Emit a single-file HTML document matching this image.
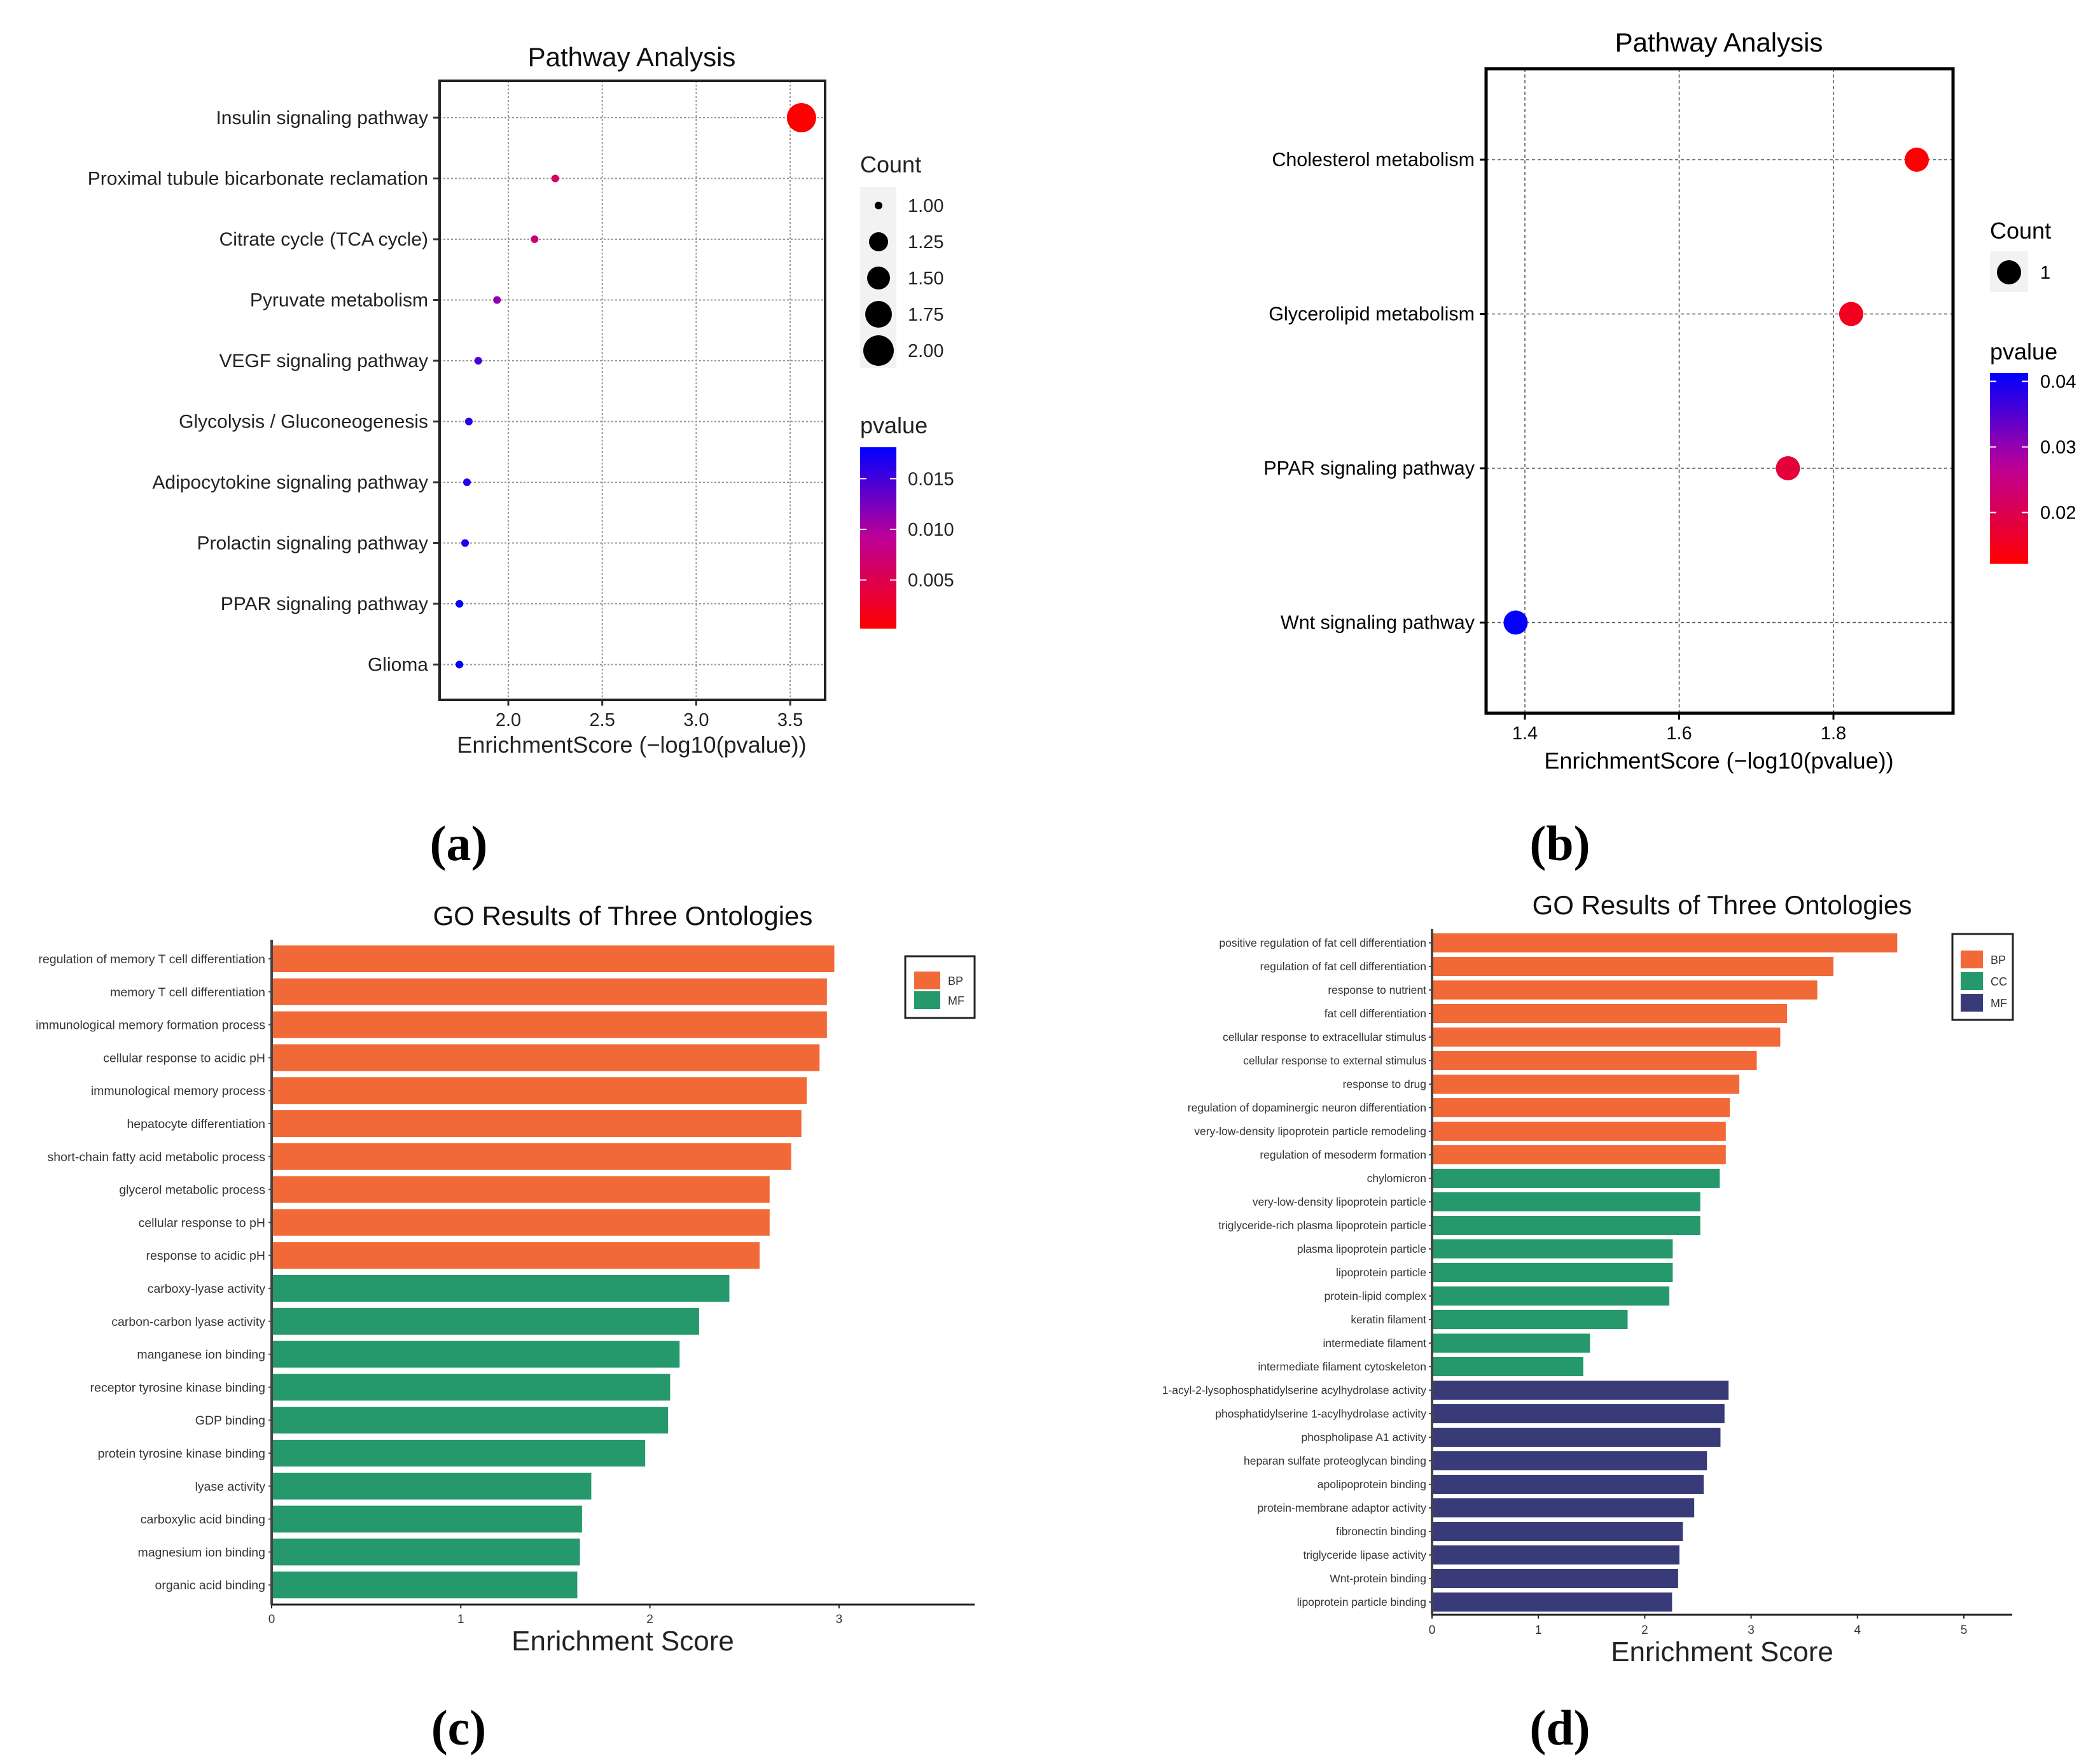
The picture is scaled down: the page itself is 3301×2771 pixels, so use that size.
<!DOCTYPE html>
<html><head><meta charset="utf-8">
<style>
html,body{margin:0;padding:0;background:#fff;overflow:hidden;}
svg{display:block;font-family:"Liberation Sans",Arial,sans-serif;}
.serif{font-family:"Liberation Serif",serif;font-weight:bold;}
</style></head>
<body>
<svg id="fig" width="3301" height="2771" viewBox="0 0 3301 2771" xmlns="http://www.w3.org/2000/svg"></svg>
<script>
// ---------- Panel A data ----------
const aCategories = ["Insulin signaling pathway","Proximal tubule bicarbonate reclamation","Citrate cycle (TCA cycle)","Pyruvate metabolism","VEGF signaling pathway","Glycolysis / Gluconeogenesis","Adipocytokine signaling pathway","Prolactin signaling pathway","PPAR signaling pathway","Glioma"];
const aScores = [3.56,2.25,2.14,1.94,1.84,1.79,1.78,1.77,1.74,1.74];
const aCounts = [2,1,1,1,1,1,1,1,1,1];
const aPvalues = [0.00028,0.0056,0.0072,0.0115,0.0145,0.0162,0.0166,0.017,0.018,0.018];
const aXTicks = [2.0,2.5,3.0,3.5];
const aCountLegend = [1.00,1.25,1.50,1.75,2.00];
const aPTicks = [0.015,0.010,0.005];
// ---------- Panel B data ----------
const bCategories = ["Cholesterol metabolism","Glycerolipid metabolism","PPAR signaling pathway","Wnt signaling pathway"];
const bScores = [1.908,1.823,1.741,1.388];
const bPvalues = [0.0124,0.015,0.018,0.041];
const bXTicks = [1.4,1.6,1.8];
const bPTicks = [0.04,0.03,0.02];
// ---------- Panel C data ----------
const cCategories = ["regulation of memory T cell differentiation","memory T cell differentiation","immunological memory formation process","cellular response to acidic pH","immunological memory process","hepatocyte differentiation","short-chain fatty acid metabolic process","glycerol metabolic process","cellular response to pH","response to acidic pH","carboxy-lyase activity","carbon-carbon lyase activity","manganese ion binding","receptor tyrosine kinase binding","GDP binding","protein tyrosine kinase binding","lyase activity","carboxylic acid binding","magnesium ion binding","organic acid binding"];
const cValues = [2.975,2.936,2.936,2.897,2.829,2.801,2.747,2.633,2.633,2.58,2.42,2.26,2.157,2.107,2.096,1.975,1.69,1.641,1.63,1.616];
const cGroups = ["BP","BP","BP","BP","BP","BP","BP","BP","BP","BP","MF","MF","MF","MF","MF","MF","MF","MF","MF","MF"];
const cXTicks = [0,1,2,3];
// ---------- Panel D data ----------
const dCategories = ["positive regulation of fat cell differentiation","regulation of fat cell differentiation","response to nutrient","fat cell differentiation","cellular response to extracellular stimulus","cellular response to external stimulus","response to drug","regulation of dopaminergic neuron differentiation","very-low-density lipoprotein particle remodeling","regulation of mesoderm formation","chylomicron","very-low-density lipoprotein particle","triglyceride-rich plasma lipoprotein particle","plasma lipoprotein particle","lipoprotein particle","protein-lipid complex","keratin filament","intermediate filament","intermediate filament cytoskeleton","1-acyl-2-lysophosphatidylserine acylhydrolase activity","phosphatidylserine 1-acylhydrolase activity","phospholipase A1 activity","heparan sulfate proteoglycan binding","apolipoprotein binding","protein-membrane adaptor activity","fibronectin binding","triglyceride lipase activity","Wnt-protein binding","lipoprotein particle binding"];
const dValues = [4.374,3.774,3.622,3.338,3.274,3.053,2.889,2.8,2.762,2.762,2.705,2.522,2.522,2.263,2.263,2.231,1.839,1.485,1.422,2.788,2.75,2.712,2.585,2.554,2.465,2.358,2.326,2.314,2.257];
const dGroups = ["BP","BP","BP","BP","BP","BP","BP","BP","BP","BP","CC","CC","CC","CC","CC","CC","CC","CC","CC","MF","MF","MF","MF","MF","MF","MF","MF","MF","MF"];
const dXTicks = [0,1,2,3,4,5];

const NS="http://www.w3.org/2000/svg";
const svg=document.getElementById('fig');
function mk(tag,attrs,parent){const e=document.createElementNS(NS,tag);for(const k in attrs)e.setAttribute(k,attrs[k]);(parent||svg).appendChild(e);return e;}
function txt(s,attrs,parent){const e=mk('text',attrs,parent);e.textContent=s;return e;}
function pcol(t){
  t=Math.max(0,Math.min(1,t));
  const s=[[255,0,0],[190,0,150],[0,0,255]];
  let a,b,u; if(t<0.5){a=s[0];b=s[1];u=t/0.5;}else{a=s[1];b=s[2];u=(t-0.5)/0.5;}
  return 'rgb('+a.map((v,i)=>Math.round(v+(b[i]-v)*u)).join(',')+')';
}
const GCOL_C={BP:"#f26938",MF:"#25996b"};
const GCOL_D={BP:"#f26938",CC:"#25996b",MF:"#393b79"};

// ================= PANEL A =================
(function(){
  const g=mk('g',{});
  
  
  const L=691,R=1297,T=127,B=1100;
  const xs=v=>799+(v-2.0)*295.4;
  const ys=i=>185+i*95.5;
  const t=txt('Pathway Analysis',{x:993,y:104,'font-size':42,'text-anchor':'middle',fill:'#111'},g);
  
  
  aXTicks.forEach(v=>{
    const l=mk('line',{x1:xs(v),x2:xs(v),y1:T,y2:B,stroke:'#999','stroke-width':2,'stroke-dasharray':'3,3'},g);
    
    
    mk('line',{x1:xs(v),x2:xs(v),y1:B,y2:B+9,stroke:'#333','stroke-width':3},g);
    const tl=txt(v.toFixed(1),{x:xs(v),y:1141,'font-size':29,'text-anchor':'middle',fill:'#222'},g);
    
    
  });
  aCategories.forEach((c,i)=>{
    const l=mk('line',{x1:L,x2:R,y1:ys(i),y2:ys(i),stroke:'#999','stroke-width':2,'stroke-dasharray':'3,3'},g);
    
    
    mk('line',{x1:L-10,x2:L,y1:ys(i),y2:ys(i),stroke:'#333','stroke-width':3},g);
    const tl=txt(c,{x:673,y:ys(i)+10,'font-size':30,'text-anchor':'end',fill:'#222'},g);
    
    
  });
  const box=mk('rect',{x:L,y:T,width:R-L,height:B-T,fill:'none',stroke:'#222','stroke-width':4},g);
  
  
  const pLo=0.0002,pHi=0.0181;
  const rad=c=>6+(c-1)*17;
  aCategories.forEach((c,i)=>{
    const d=mk('circle',{cx:xs(aScores[i]),cy:ys(i),r:rad(aCounts[i]),fill:pcol((aPvalues[i]-pLo)/(pHi-pLo))},g);
    
    
  });
  const xt=txt('EnrichmentScore (\u2212log10(pvalue))',{x:993,y:1183,'font-size':36,'text-anchor':'middle',fill:'#222'},g);
  
  
  const ct=txt('Count',{x:1352,y:271,'font-size':36,fill:'#222'},g);
  
  
  mk('rect',{x:1352,y:294,width:57,height:285,fill:'#f2f2f2'},g);
  const lr=[6,15,18,21,24];
  aCountLegend.forEach((v,i)=>{
    const yy=323+i*57;
    const d=mk('circle',{cx:1381,cy:yy,r:lr[i],fill:'#000'},g);
    
    
    const tl=txt(v.toFixed(2),{x:1427,y:yy+10,'font-size':29,fill:'#222'},g);
    
    
  });
  const pt=txt('pvalue',{x:1352,y:681,'font-size':36,fill:'#222'},g);
  
  
  const gd=mk('linearGradient',{id:'gA',x1:0,y1:0,x2:0,y2:1},g);
  [0,0.25,0.5,0.75,1].forEach(o=>mk('stop',{offset:o,'stop-color':pcol(1-o)},gd));
  const cb=mk('rect',{x:1352,y:703,width:57,height:285,fill:'url(#gA)'},g);
  
  
  aPTicks.forEach(v=>{
    const yy=703+(pHi-v)/(pHi-pLo)*285;
    mk('line',{x1:1352,x2:1362,y1:yy,y2:yy,stroke:'#fff','stroke-width':2},g);
    mk('line',{x1:1399,x2:1409,y1:yy,y2:yy,stroke:'#fff','stroke-width':2},g);
    const tl=txt(v.toFixed(3),{x:1427,y:yy+10,'font-size':29,fill:'#222'},g);
    
    
  });
  const pl=txt('(a)',{x:721,y:1352,'font-size':78,'text-anchor':'middle',fill:'#000',class:'serif'},g);
  
  
})();

// ================= PANEL B =================
(function(){
  const g=mk('g',{});
  
  
  const L=2336,R=3070,T=108,B=1121;
  const xs=v=>2397+(v-1.4)*1212.5;
  const ys=i=>251+i*242.5;
  const t=txt('Pathway Analysis',{x:2702,y:81,'font-size':42,'text-anchor':'middle',fill:'#000'},g);
  
  
  bXTicks.forEach(v=>{
    const l=mk('line',{x1:xs(v),x2:xs(v),y1:T,y2:B,stroke:'#555','stroke-width':1.5,'stroke-dasharray':'5,4'},g);
    
    
    mk('line',{x1:xs(v),x2:xs(v),y1:B,y2:B+10,stroke:'#000','stroke-width':3},g);
    const tl=txt(v.toFixed(1),{x:xs(v),y:1162,'font-size':29,'text-anchor':'middle',fill:'#000'},g);
    
    
  });
  const pLo=0.0122,pHi=0.0413;
  bCategories.forEach((c,i)=>{
    const l=mk('line',{x1:L,x2:R,y1:ys(i),y2:ys(i),stroke:'#555','stroke-width':1.5,'stroke-dasharray':'5,4'},g);
    
    
    mk('line',{x1:L-10,x2:L,y1:ys(i),y2:ys(i),stroke:'#000','stroke-width':3},g);
    const tl=txt(c,{x:2318,y:ys(i)+10,'font-size':30.5,'text-anchor':'end',fill:'#000'},g);
    
    
  });
  bCategories.forEach((c,i)=>{
    const d=mk('circle',{cx:xs(bScores[i]),cy:ys(i),r:19,fill:pcol((bPvalues[i]-pLo)/(pHi-pLo))},g);
    
    
  });
  const box=mk('rect',{x:L,y:T,width:R-L,height:B-T,fill:'none',stroke:'#000','stroke-width':5},g);
  
  
  const xt=txt('EnrichmentScore (\u2212log10(pvalue))',{x:2702,y:1208,'font-size':36,'text-anchor':'middle',fill:'#000'},g);
  
  
  const ct=txt('Count',{x:3128,y:375,'font-size':36,fill:'#000'},g);
  
  
  mk('rect',{x:3128,y:395,width:60,height:64,fill:'#f2f2f2'},g);
  const lk=mk('circle',{cx:3158,cy:428,r:19,fill:'#000'},g);
  
  
  const ll=txt('1',{x:3207,y:438,'font-size':29,fill:'#000'},g);
  
  
  const pt=txt('pvalue',{x:3128,y:565,'font-size':36,fill:'#000'},g);
  
  
  const gd=mk('linearGradient',{id:'gB',x1:0,y1:0,x2:0,y2:1},g);
  [0,0.25,0.5,0.75,1].forEach(o=>mk('stop',{offset:o,'stop-color':pcol(1-o)},gd));
  const cb=mk('rect',{x:3128,y:586,width:60,height:300,fill:'url(#gB)'},g);
  
  
  bPTicks.forEach(v=>{
    const yy=586+(pHi-v)/(pHi-pLo)*300;
    mk('line',{x1:3128,x2:3138,y1:yy,y2:yy,stroke:'#fff','stroke-width':2},g);
    mk('line',{x1:3178,x2:3188,y1:yy,y2:yy,stroke:'#fff','stroke-width':2},g);
    const tl=txt(v.toFixed(2),{x:3207,y:yy+10,'font-size':29,fill:'#000'},g);
    
    
  });
  const pl=txt('(b)',{x:2452,y:1352,'font-size':78,'text-anchor':'middle',fill:'#000',class:'serif'},g);
  
  
})();

// ================= PANEL C =================
(function(){
  const g=mk('g',{});
  
  
  const X0=427,Y0=1477,YB=2522,XR=1532;
  const xs=v=>X0+v*297.3;
  const ys=i=>1507+i*51.8;
  const t=txt('GO Results of Three Ontologies',{x:979,y:1454,'font-size':42,'text-anchor':'middle',fill:'#111'},g);
  
  
  cCategories.forEach((c,i)=>{
    const b=mk('rect',{x:X0,y:ys(i)-21,width:xs(cValues[i])-X0,height:42,fill:GCOL_C[cGroups[i]]},g);
    
    
    mk('line',{x1:X0-5,x2:X0,y1:ys(i),y2:ys(i),stroke:'#555','stroke-width':2},g);
    const tl=txt(c,{x:417,y:ys(i)+7,'font-size':19.5,'text-anchor':'end',fill:'#333'},g);
    
    
  });
  const ya=mk('line',{x1:X0,x2:X0,y1:Y0,y2:YB,stroke:'#444','stroke-width':4},g);
  
  
  const xa=mk('line',{x1:X0,x2:XR,y1:YB,y2:YB,stroke:'#222','stroke-width':3},g);
  
  
  cXTicks.forEach(v=>{
    mk('line',{x1:xs(v),x2:xs(v),y1:YB,y2:YB+6,stroke:'#222','stroke-width':2},g);
    const tl=txt(String(v),{x:xs(v),y:2551,'font-size':19,'text-anchor':'middle',fill:'#333'},g);
    
    
  });
  const xt=txt('Enrichment Score',{x:979,y:2594,'font-size':44,'text-anchor':'middle',fill:'#222'},g);
  
  
  const lg=mk('rect',{x:1423,y:1503,width:109,height:97,fill:'#fff',stroke:'#222','stroke-width':3},g);
  
  
  [["BP",1527],["MF",1558]].forEach(([k,y])=>{
    const r=mk('rect',{x:1437,y:y,width:41,height:28,fill:GCOL_C[k]},g);
    
    
    const tl=txt(k,{x:1490,y:y+21,'font-size':18,fill:'#333'},g);
    
    
  });
  const pl=txt('(c)',{x:721,y:2742,'font-size':78,'text-anchor':'middle',fill:'#000',class:'serif'},g);
  
  
})();

// ================= PANEL D =================
(function(){
  const g=mk('g',{});
  
  
  const X0=2251,Y0=1460,YB=2538,XR=3163;
  const xs=v=>X0+v*167.2;
  const ys=i=>1482+i*37;
  const t=txt('GO Results of Three Ontologies',{x:2707,y:1437,'font-size':42,'text-anchor':'middle',fill:'#111'},g);
  
  
  dCategories.forEach((c,i)=>{
    const b=mk('rect',{x:X0,y:ys(i)-15,width:xs(dValues[i])-X0,height:30,fill:GCOL_D[dGroups[i]]},g);
    
    
    mk('line',{x1:X0-5,x2:X0,y1:ys(i),y2:ys(i),stroke:'#555','stroke-width':2},g);
    const tl=txt(c,{x:2242,y:ys(i)+6,'font-size':17.5,'text-anchor':'end',fill:'#333'},g);
    
    
  });
  const ya=mk('line',{x1:X0,x2:X0,y1:Y0,y2:YB,stroke:'#444','stroke-width':4},g);
  
  
  const xa=mk('line',{x1:X0,x2:XR,y1:YB,y2:YB,stroke:'#222','stroke-width':3},g);
  
  
  dXTicks.forEach(v=>{
    mk('line',{x1:xs(v),x2:xs(v),y1:YB,y2:YB+6,stroke:'#222','stroke-width':2},g);
    const tl=txt(String(v),{x:xs(v),y:2568,'font-size':19,'text-anchor':'middle',fill:'#333'},g);
    
    
  });
  const xt=txt('Enrichment Score',{x:2707,y:2611,'font-size':44,'text-anchor':'middle',fill:'#222'},g);
  
  
  const lg=mk('rect',{x:3069,y:1468,width:95,height:135,fill:'#fff',stroke:'#222','stroke-width':3},g);
  
  
  [["BP",1494],["CC",1528],["MF",1562]].forEach(([k,y])=>{
    const r=mk('rect',{x:3082,y:y,width:35,height:28,fill:GCOL_D[k]},g);
    
    
    const tl=txt(k,{x:3129,y:y+21,'font-size':18,fill:'#333'},g);
    
    
  });
  const pl=txt('(d)',{x:2452,y:2742,'font-size':78,'text-anchor':'middle',fill:'#000',class:'serif'},g);
  
  
})();
</script>
</body></html>
